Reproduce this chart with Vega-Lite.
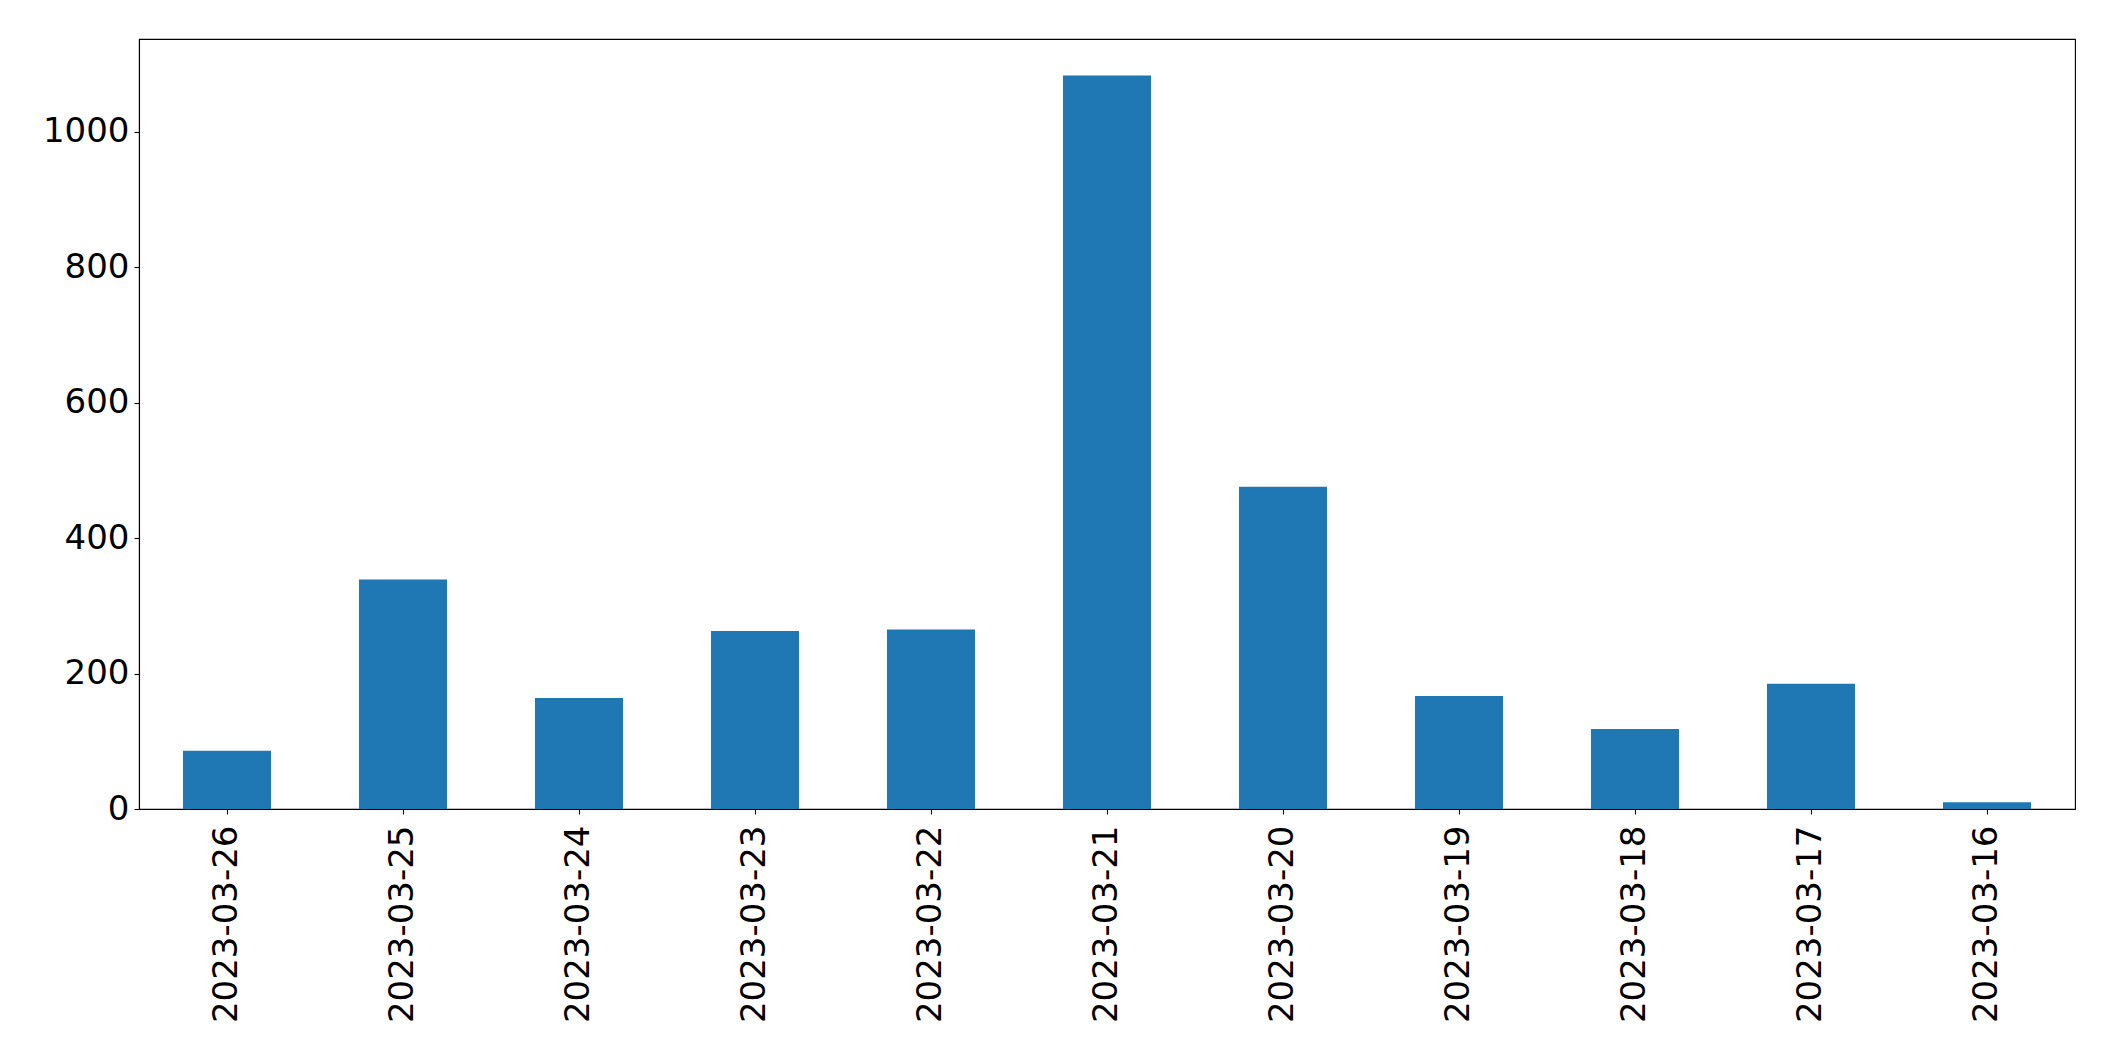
{
  "$schema": "https://vega.github.io/schema/vega-lite/v6.json",
  "autosize": "none",
  "padding": {"left": 139, "top": 39, "right": 40, "bottom": 252},
  "width": 1936,
  "height": 770,
  "background": "white",
  "config": {
    "view": {"stroke": "black", "strokeWidth": 1.1},
    "font": "DejaVu Sans",
    "axis": {
      "domainColor": "black",
      "domainWidth": 1.1,
      "tickColor": "black",
      "tickWidth": 1.1,
      "tickSize": 5,
      "labelColor": "black",
      "labelFont": "DejaVu Sans",
      "labelFontSize": 34,
      "labelLimit": 0,
      "grid": false,
      "title": null
    }
  },
  "data": {
    "values": [
      {"date": "2023-03-26", "count": 86},
      {"date": "2023-03-25", "count": 339},
      {"date": "2023-03-24", "count": 164},
      {"date": "2023-03-23", "count": 263},
      {"date": "2023-03-22", "count": 265},
      {"date": "2023-03-21", "count": 1083},
      {"date": "2023-03-20", "count": 476},
      {"date": "2023-03-19", "count": 167},
      {"date": "2023-03-18", "count": 118},
      {"date": "2023-03-17", "count": 185},
      {"date": "2023-03-16", "count": 10}
    ]
  },
  "mark": {"type": "bar", "color": "#1f77b4"},
  "encoding": {
    "x": {
      "field": "date",
      "type": "nominal",
      "sort": null,
      "scale": {"paddingInner": 0.5, "paddingOuter": 0.25},
      "axis": {"labelAngle": -90, "labelPadding": 11, "labelBaseline": "middle", "labelAlign": "right"}
    },
    "y": {
      "field": "count",
      "type": "quantitative",
      "scale": {"domain": [0, 1137], "nice": false},
      "axis": {"values": [0, 200, 400, 600, 800, 1000], "labelPadding": 5, "format": "d"}
    }
  }
}
